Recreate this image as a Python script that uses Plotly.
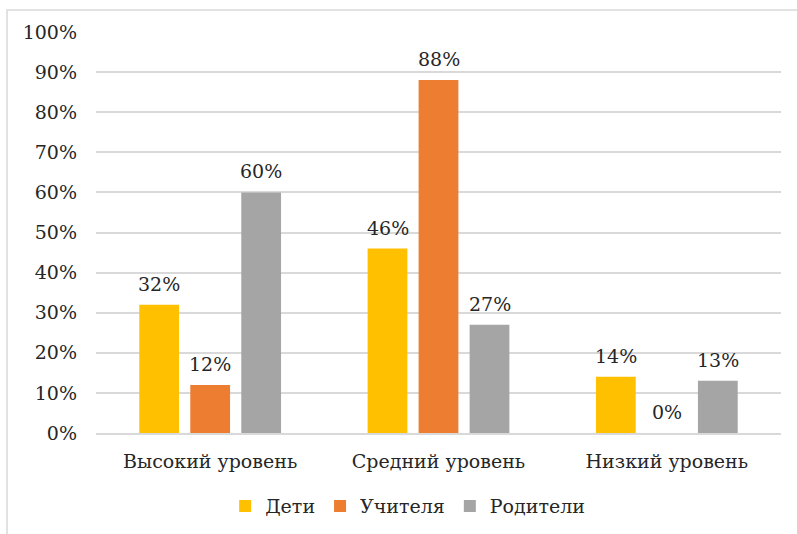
import plotly.graph_objects as go

categories = ["Высокий уровень", "Средний уровень", "Низкий уровень"]
series_names = ["Дети", "Учителя", "Родители"]
deti = [32, 46, 14]
uchitelya = [12, 88, 0]
roditeli = [60, 27, 13]
tick_vals = [0, 10, 20, 30, 40, 50, 60, 70, 80, 90, 100]
tick_text = [f"{v}%" for v in tick_vals]

colors = ["#FFC000", "#ED7D31", "#A5A5A5"]
series = [deti, uchitelya, roditeli]
font_family = "DejaVu Serif"

fig = go.Figure()
for name, vals, col in zip(series_names, series, colors):
    fig.add_trace(go.Bar(
        x=categories, y=vals, name=name,
        marker=dict(color=col, line=dict(width=0)),
    ))

# value labels above each bar, offset to the bar's slot within the group
slot_px = 51
for i, vals in enumerate(series):
    for cat, v in zip(categories, vals):
        fig.add_annotation(
            x=cat, y=v, text=f"{v}%", showarrow=False,
            xshift=(i - 1) * slot_px, yshift=21, yanchor="middle",
            font=dict(family=font_family, size=19, color="#262626"),
        )

# outer frame of the chart area
fig.add_shape(type="rect", xref="paper", yref="paper",
              x0=-89 / 685, x1=1.05, y0=-0.6, y1=1 + 22 / 401,
              line=dict(color="#D9D9D9", width=1.5), layer="below")

fig.update_layout(
    width=797, height=534,
    margin=dict(l=96, r=16, t=32, b=101, autoexpand=False),
    barmode="group", bargap=0.33, bargroupgap=0.22,
    plot_bgcolor="white", paper_bgcolor="white",
    font=dict(family=font_family, size=19, color="#262626"),
    showlegend=True,
    legend=dict(orientation="h", x=0.455, xanchor="center", y=-0.135, yanchor="top",
                font=dict(family=font_family, size=19), itemwidth=30, traceorder="normal"),
    xaxis=dict(showline=True, linecolor="#D9D9D9", linewidth=1.5, ticks="",
               ticklabelstandoff=10, tickfont=dict(family=font_family, size=19)),
    yaxis=dict(range=[0, 100], tickvals=tick_vals, ticktext=tick_text,
               showgrid=True, gridcolor="#D9D9D9", gridwidth=1.5,
               zeroline=False, ticks="", ticklabelstandoff=18,
               tickfont=dict(family=font_family, size=19)),
)

fig.write_html("out.html")
